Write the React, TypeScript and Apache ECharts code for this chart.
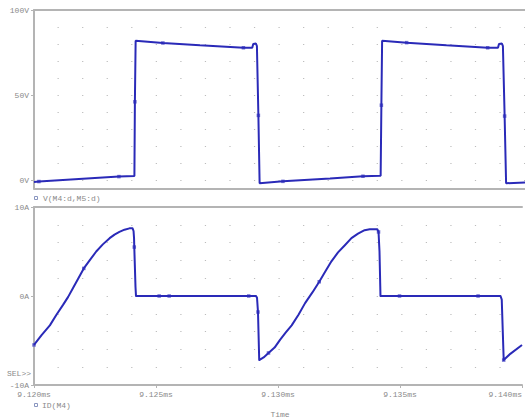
import React, { useEffect, useRef } from "react";
import * as echarts from "echarts";

// ---- data (time in ms) ----
const voltTime = [
  9.12, 9.1202, 9.12346, 9.12409, 9.12411, 9.12414, 9.12525, 9.12676, 9.12853, 9.12889,
  9.12893, 9.12904, 9.12908, 9.12914, 9.12919, 9.13014, 9.13206, 9.1334, 9.13412, 9.13415,
  9.13418, 9.13518, 9.1368, 9.13848, 9.1389, 9.13894, 9.13906, 9.1391, 9.13917, 9.13923, 9.14,
];
const voltValues = [
  -1.2, -0.9, 2.0, 2.4, 46, 81.9, 80.6, 79.2, 77.8, 77.8,
  80, 80.3, 78.8, 38, -1.9, -0.8, 0.9, 2.2, 2.5, 44,
  81.9, 80.8, 79.2, 77.8, 77.8, 80, 80.3, 78.8, 37.6, -1.9, -1.5,
];
const voltMarkerIdx = [1, 2, 4, 6, 8, 13, 15, 17, 19, 21, 23, 28];

const currTime = [
  9.12, 9.12031, 9.12065, 9.12092, 9.12119, 9.1214, 9.1216, 9.12182, 9.12204, 9.12228,
  9.12255, 9.12282, 9.1231, 9.1233, 9.1235, 9.12371, 9.12391, 9.12404, 9.12408, 9.1241,
  9.12411, 9.12416, 9.12418, 9.12513, 9.12554, 9.1288, 9.1291, 9.12914, 9.12918, 9.12923,
  9.12941, 9.12961, 9.12986, 9.13009, 9.13032, 9.13056, 9.13084, 9.13111, 9.13141, 9.13169,
  9.13195, 9.13219, 9.13246, 9.13274, 9.13301, 9.13328, 9.13355, 9.13376, 9.13407, 9.13412,
  9.13416, 9.1342, 9.13498, 9.1382, 9.13912, 9.13917, 9.13921, 9.13925, 9.13952, 9.14,
];
const currValues = [
  -5.5, -4.4, -3.3, -2.1, -1.0, -0.1, 0.9, 2.0, 3.1, 4.0,
  5.0, 5.8, 6.5, 6.9, 7.2, 7.45, 7.6, 7.6, 7.3, 6.5,
  5.5, 1.0, 0, 0, 0, 0, 0, -0.2, -1.8, -7.2,
  -6.9, -6.4, -5.8, -4.9, -4.1, -3.3, -2.1, -0.8, 0.4, 1.6,
  2.8, 3.9, 4.9, 5.7, 6.5, 7.0, 7.4, 7.5, 7.5, 7.2,
  5.0, 0, 0, 0, 0, -0.4, -3.8, -7.2, -6.5, -5.5,
];
const currMarkerIdx = [0, 8, 20, 23, 24, 25, 28, 31, 39, 49, 52, 53, 57];

const timeTicks = [9.12, 9.125, 9.13, 9.135, 9.14];
const voltTicks = [0, 50, 100];
const voltDotRows = [0, 10, 20, 30, 40, 50, 60, 70, 80, 90];
const currTicks = [-10, 0, 10];
const currDotRows = [-8, -6, -4, -2, 0, 2, 4, 6, 8];

const TRACE = "#2a2ab8";
const MARK = "#4a4ac4";
const AXIS = "#b4b4b4";
const TEXT = "#8a8a8a";
const MONO = "'Liberation Mono', 'DejaVu Sans Mono', monospace";
const DOT_PERIOD = 491 / 20;

function pairs(t: number[], v: number[]) {
  return t.map((x, i) => [x, v[i]]);
}

export default function App() {
  const ref = useRef<HTMLDivElement>(null);
  useEffect(() => {
    if (!ref.current) return;
    const chart = echarts.init(ref.current, undefined, { renderer: "svg" });
    const voltData = pairs(voltTime, voltValues);
    const currData = pairs(currTime, currValues);
    const voltMarks = voltMarkerIdx.map((i) => voltData[i]);
    const currMarks = currMarkerIdx.map((i) => currData[i]);

    const xBase = (gridIndex: number, bottomLabels: boolean) => ({
      type: "value",
      gridIndex,
      position: "bottom",
      min: 9.12,
      max: 9.14,
      axisLine: { show: true, onZero: false, lineStyle: { color: AXIS, width: 2 } },
      axisTick: {
        show: bottomLabels,
        customValues: timeTicks,
        length: 3,
        lineStyle: { color: AXIS, width: 1 },
      },
      axisLabel: {
        show: bottomLabels,
        customValues: timeTicks,
        formatter: (v: number) => v.toFixed(3) + "ms",
        color: TEXT,
        fontSize: 8,
        fontFamily: MONO,
        margin: 5,
        alignMaxLabel: "right",
      },
      splitLine: { show: false },
    });
    const xTop = (gridIndex: number) => ({
      type: "value",
      gridIndex,
      position: "top",
      min: 9.12,
      max: 9.14,
      axisLine: { show: true, onZero: false, lineStyle: { color: AXIS, width: 2 } },
      axisTick: { show: false },
      axisLabel: { show: false },
      splitLine: { show: false },
    });
    const yMain = (gridIndex: number, min: number, max: number, ticks: number[], unit: string) => ({
      type: "value",
      gridIndex,
      position: "left",
      min,
      max,
      axisLine: { show: true, onZero: false, lineStyle: { color: AXIS, width: 2 } },
      axisTick: { show: true, customValues: ticks, length: 3, lineStyle: { color: AXIS, width: 1 } },
      axisLabel: {
        customValues: ticks,
        formatter: (v: number) => `${v}${unit}`,
        color: TEXT,
        fontSize: 8,
        fontFamily: MONO,
        margin: 5,
      },
      splitLine: { show: false },
    });
    const yDots = (gridIndex: number, min: number, max: number, rows: number[]) => ({
      type: "value",
      gridIndex,
      position: "left",
      min,
      max,
      axisLine: { show: false },
      axisTick: { show: false, customValues: rows },
      axisLabel: { show: false, customValues: rows },
      splitLine: {
        show: true,
        lineStyle: {
          color: "#bcbcbc",
          width: 1.2,
          type: [1.2, DOT_PERIOD - 1.2],
          dashOffset: 0.6,
        },
      },
    });

    chart.setOption({
      animation: false,
      backgroundColor: "#ffffff",
      grid: [
        { left: 34, top: 10, right: 0, height: 178.5, show: false },
        { left: 34, top: 207, right: 0, height: 178, show: false },
      ],
      xAxis: [xBase(0, false), xTop(0), xBase(1, true), xTop(1)],
      yAxis: [
        yMain(0, -5, 100, voltTicks, "V"),
        yDots(0, -5, 100, voltDotRows),
        yMain(1, -10, 10, currTicks, "A"),
        yDots(1, -10, 10, currDotRows),
      ],
      series: [
        {
          type: "line",
          name: "V(M4:d,M5:d)",
          xAxisIndex: 0,
          yAxisIndex: 0,
          data: voltData,
          showSymbol: false,
          lineStyle: { color: TRACE, width: 2 },
          itemStyle: { color: TRACE },
        },
        {
          type: "scatter",
          xAxisIndex: 0,
          yAxisIndex: 0,
          data: voltMarks,
          symbol: "rect",
          symbolSize: 3.5,
          itemStyle: { color: MARK },
          silent: true,
        },
        {
          type: "line",
          name: "ID(M4)",
          xAxisIndex: 2,
          yAxisIndex: 2,
          data: currData,
          showSymbol: false,
          lineStyle: { color: TRACE, width: 2, join: "round" },
          itemStyle: { color: TRACE },
        },
        {
          type: "scatter",
          xAxisIndex: 2,
          yAxisIndex: 2,
          data: currMarks,
          symbol: "rect",
          symbolSize: 3.5,
          itemStyle: { color: MARK },
          silent: true,
        },
      ],
      graphic: [
        {
          type: "rect",
          shape: { x: 34.5, y: 196.5, width: 3, height: 3 },
          style: { fill: "none", stroke: "#8a96c0", lineWidth: 1 },
        },
        {
          type: "text",
          x: 43,
          y: 198,
          style: { text: "V(M4:d,M5:d)", fill: TEXT, font: `8px ${MONO}`, verticalAlign: "middle" },
        },
        {
          type: "text",
          x: 7,
          y: 373,
          style: { text: "SEL>>", fill: TEXT, font: `8px ${MONO}`, verticalAlign: "middle" },
        },
        {
          type: "rect",
          shape: { x: 34.5, y: 403.5, width: 3, height: 3 },
          style: { fill: "none", stroke: "#8a96c0", lineWidth: 1 },
        },
        {
          type: "text",
          x: 42,
          y: 405,
          style: { text: "ID(M4)", fill: TEXT, font: `8px ${MONO}`, verticalAlign: "middle" },
        },
        {
          type: "text",
          x: 280,
          y: 414,
          style: { text: "Time", fill: TEXT, font: `8px ${MONO}`, align: "center", verticalAlign: "middle" },
        },
      ],
    });
    return () => chart.dispose();
  }, []);

  return (
    <div
      ref={ref}
      style={{ position: "fixed", left: 0, top: 0, width: 525, height: 417, background: "#fff" }}
    />
  );
}
